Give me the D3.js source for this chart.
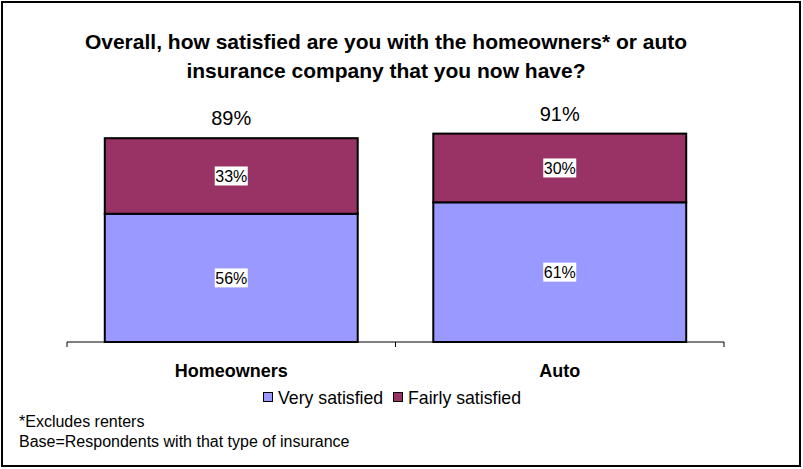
<!DOCTYPE html>
<html><head><meta charset="utf-8">
<script src="https://cdn.jsdelivr.net/npm/d3@7"></script>
<style>body{margin:0;background:#fff}svg{display:block;font-family:"Liberation Sans",Arial,sans-serif}</style>
</head><body>
<svg id="c" width="803" height="469"></svg>
<script>
const categories = ["Homeowners", "Auto"];
const seriesNames = ["Very satisfied", "Fairly satisfied"];
const verySatisfied = [56, 61];
const fairlySatisfied = [33, 30];
const totals = [89, 91];
const colors = ["#9999FF", "#993366"];
const titleLines = ["Overall, how satisfied are you with the homeowners* or auto", "insurance company that you now have?"];
const footnotes = ["*Excludes renters", "Base=Respondents with that type of insurance"];

const svg = d3.select("#c");
svg.append("rect").attr("x", 2).attr("y", 2).attr("width", 798).attr("height", 464)
  .attr("fill", "#fff").attr("stroke", "#000").attr("stroke-width", 2);

svg.selectAll("text.title").data(titleLines).join("text").attr("class", "title")
  .attr("x", 386).attr("y", (d, i) => 49 + i * 29).attr("text-anchor", "middle")
  .attr("font-size", 21).attr("font-weight", "bold").text(d => d);

const x = d3.scaleBand().domain(categories).range([67, 724]).paddingInner(0.23).paddingOuter(0.115);
const y = d3.scaleLinear().domain([0, 100]).range([342, 113]);

const data = categories.map((c, i) => ({ cat: c, v: [verySatisfied[i], fairlySatisfied[i]], total: totals[i] }));
const stack = d3.stack().keys([0, 1]).value((d, k) => d.v[k]);
const layers = stack(data);

const g = svg.append("g");
layers.forEach((layer, k) => {
  g.selectAll("rect.s" + k).data(layer).join("rect").attr("class", "s" + k)
    .attr("x", d => x(d.data.cat)).attr("width", x.bandwidth())
    .attr("y", d => y(d[1])).attr("height", d => y(d[0]) - y(d[1]))
    .attr("fill", colors[k]).attr("stroke", "#000").attr("stroke-width", 2);
});

// segment labels
layers.forEach((layer, k) => {
  layer.forEach(d => {
    const cx = x(d.data.cat) + x.bandwidth() / 2;
    const cy = (y(d[0]) + y(d[1])) / 2;
    const t = d.data.v[k] + "%";
    g.append("rect").attr("x", cx - 16.5).attr("y", cy - 9.5).attr("width", 33).attr("height", 19).attr("fill", "#fff");
    g.append("text").attr("x", cx).attr("y", cy + 6).attr("text-anchor", "middle").attr("font-size", 16).text(t);
  });
});

// totals
g.selectAll("text.tot").data(data).join("text").attr("class", "tot")
  .attr("x", d => x(d.cat) + x.bandwidth() / 2).attr("y", d => y(d.total) - 13)
  .attr("text-anchor", "middle").attr("font-size", 20).text(d => d.total + "%");

// axis
const axis = d3.axisBottom(x).tickSize(0).tickFormat(d => d);
const ax = svg.append("g").attr("transform", "translate(0,342)").call(axis);
ax.select(".domain").attr("stroke", "#000").attr("d", "M67,0H724");
ax.selectAll(".tick text").attr("font-size", 18).attr("font-weight", "bold").attr("fill", "#000")
  .attr("font-family", "Liberation Sans, Arial, sans-serif").attr("dy", 0).attr("y", 35);
const bounds = [x.range()[0], ...categories.slice(1).map(c => x(c) - x.step() * x.paddingInner() / 2), x.range()[1]];
ax.selectAll("line.b").data(bounds).join("line").attr("class", "b")
  .attr("x1", d => d).attr("x2", d => d).attr("y1", 0).attr("y2", 5).attr("stroke", "#000");

// legend
const lg = svg.append("g");
const legX = [263, 393];
seriesNames.forEach((s, i) => {
  lg.append("rect").attr("x", legX[i] + 0.5).attr("y", 392.5).attr("width", 9).attr("height", 9)
    .attr("fill", colors[i]).attr("stroke", "#000").attr("stroke-width", 1);
  lg.append("text").attr("x", legX[i] + 15).attr("y", 404).attr("font-size", 17.7).text(s);
});

svg.selectAll("text.fn").data(footnotes).join("text").attr("class", "fn")
  .attr("x", 19).attr("y", (d, i) => 427 + i * 20).attr("font-size", 16).text(d => d);
</script>
</body></html>
